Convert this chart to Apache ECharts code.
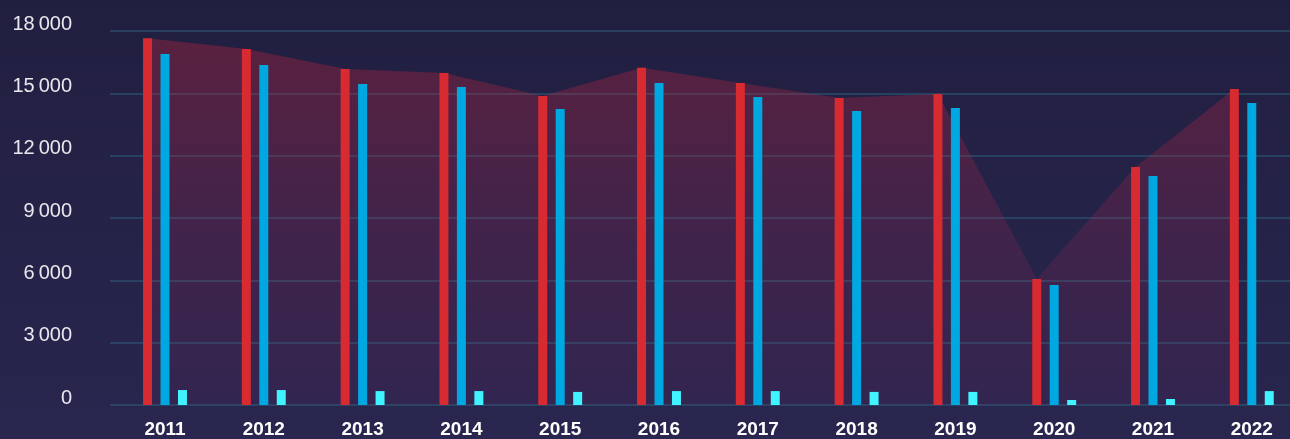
<!DOCTYPE html>
<html>
<head>
<meta charset="utf-8">
<title>chart</title>
<script src="https://cdn.jsdelivr.net/npm/echarts@6/dist/echarts.min.js"></script>
<style>
  html, body { margin: 0; padding: 0; background: #24224a; }
  #chart { width: 1290px; height: 439px; }
</style>
</head>
<body>
<div id="chart"></div>
<script>
// 年份
var years = ["2011", "2012", "2013", "2014", "2015", "2016", "2017", "2018", "2019", "2020", "2021", "2022"];
// 红色柱
var redValues = [17650, 17130, 16170, 15980, 14870, 16230, 15500, 14780, 14970, 6060, 11450, 15210];
// 蓝色柱
var blueValues = [16890, 16360, 15450, 15300, 14250, 15500, 14820, 14150, 14300, 5780, 11020, 14540];
// 青色小柱
var cyanValues = [720, 720, 670, 670, 630, 670, 670, 630, 630, 240, 290, 670];
// y轴刻度
var yTicks = [0, 3000, 6000, 9000, 12000, 15000, 18000];

var COLOR = {
  red: "#d72a31",
  blue: "#00a8e1",
  cyan: "#40f3ff",
  split: "rgba(45,110,135,0.42)",
  text: "#e8e8ee"
};

function fmt(v) {
  // 千分位用细空格
  return String(v).replace(/\B(?=(\d{3})+(?!\d))/g, "\u2009");
}

var charts = echarts.init(document.getElementById("chart"));
var yMax = yTicks[yTicks.length - 1];
var yStep = yTicks[1] - yTicks[0];
var plotWidth = 1185.6; // 12 个类目,每个约 98.8px

var option = {
  backgroundColor: {
    type: "linear", x: 0, y: 0, x2: 0, y2: 1,
    colorStops: [
      { offset: 0, color: "#211f40" },
      { offset: 1, color: "#29264f" }
    ]
  },
  animation: false,
  grid: [
    // 柱子
    { left: 115.6, width: plotWidth, top: 31, bottom: 34, outerBoundsMode: "none" },
    // 刻度和分隔线
    { left: 110, width: plotWidth + 6, top: 31, bottom: 34, outerBoundsMode: "none" },
    // 面积
    { left: 98.1, width: plotWidth, top: 31, bottom: 34, outerBoundsMode: "none" }
  ],
  xAxis: [
    {
      type: "category",
      gridIndex: 0,
      data: years,
      axisTick: { show: false },
      axisLine: { show: false },
      axisLabel: {
        color: "#ffffff",
        fontSize: 19,
        fontWeight: "bold",
        fontFamily: "Liberation Sans",
        margin: 15
      }
    },
    { type: "category", gridIndex: 1, data: years, show: false },
    { type: "category", gridIndex: 2, data: years, show: false }
  ],
  yAxis: [
    { type: "value", gridIndex: 0, min: 0, max: yMax, show: false },
    {
      type: "value",
      gridIndex: 1,
      min: 0,
      max: yMax,
      interval: yStep,
      axisLine: { show: false },
      axisTick: { show: false },
      axisLabel: {
        color: COLOR.text,
        fontSize: 20,
        fontFamily: "Liberation Sans",
        margin: 38,
        verticalAlign: "bottom",
        lineHeight: 14,
        formatter: fmt
      },
      splitLine: {
        show: true,
        lineStyle: { color: COLOR.split, width: 2 }
      }
    },
    { type: "value", gridIndex: 2, min: 0, max: yMax, show: false }
  ],
  series: [
    {
      name: "area",
      type: "line",
      xAxisIndex: 2,
      yAxisIndex: 2,
      data: redValues,
      symbol: "none",
      z: 1,
      lineStyle: { width: 0 },
      areaStyle: {
        color: {
          type: "linear", x: 0, y: 0, x2: 0, y2: 1,
          colorStops: [
            { offset: 0, color: "rgba(195,35,60,0.5)" },
            { offset: 1, color: "rgba(150,40,100,0.12)" }
          ]
        }
      }
    },
    {
      name: "red",
      type: "bar",
      xAxisIndex: 0,
      yAxisIndex: 0,
      data: redValues,
      barWidth: 9,
      barGap: "94%",
      z: 3,
      itemStyle: { color: COLOR.red }
    },
    {
      name: "blue",
      type: "bar",
      xAxisIndex: 0,
      yAxisIndex: 0,
      data: blueValues,
      barWidth: 9,
      barGap: "94%",
      z: 3,
      itemStyle: { color: COLOR.blue }
    },
    {
      name: "cyan",
      type: "bar",
      xAxisIndex: 0,
      yAxisIndex: 0,
      data: cyanValues,
      barWidth: 9,
      barGap: "94%",
      z: 3,
      itemStyle: { color: COLOR.cyan }
    }
  ]
};
charts.setOption(option);
window.addEventListener("resize", function() {
  charts.resize();
});
</script>
</body>
</html>
